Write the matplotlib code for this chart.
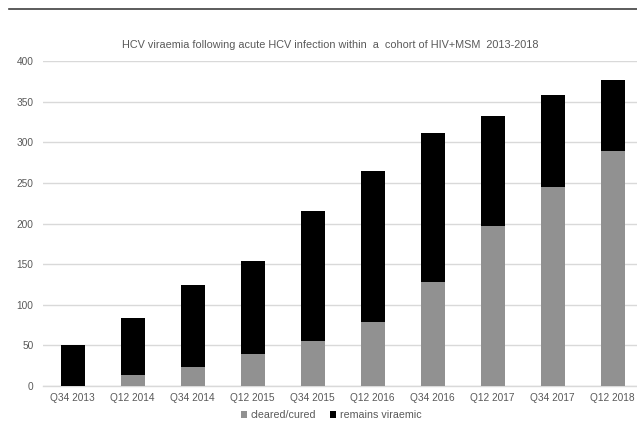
import matplotlib
matplotlib.use('Agg')
import matplotlib.pyplot as plt
import numpy as np
from matplotlib.lines import Line2D

# half-year periods and patient counts
periods = ['Q34 2013', 'Q12 2014', 'Q34 2014', 'Q12 2015', 'Q34 2015',
           'Q12 2016', 'Q34 2016', 'Q12 2017', 'Q34 2017', 'Q12 2018']
cleared = [0, 13, 24, 40, 56, 79, 128, 197, 245, 289]
viraemic = [50, 71, 101, 114, 160, 186, 184, 136, 113, 88]

plt.rcParams['font.family'] = ['Liberation Sans', 'DejaVu Sans']
text_col = '#595959'
grid_col = '#d9d9d9'

fig = plt.figure(figsize=(6.37, 4.22), dpi=100)
ax = fig.add_axes([42.5 / 637, 1 - 386 / 422, 600 / 637, (386 - 61.3) / 422])

x = np.arange(len(periods))
ax.bar(x, cleared, width=0.4, color='#919191', label='cleared/cured', zorder=3)
ax.bar(x, viraemic, width=0.4, bottom=cleared, color='black',
       label='remains viraemic', zorder=3)

ax.set_xlim(-0.5, len(periods) - 0.5)
ax.set_ylim(0, 400)
ax.set_yticks(np.arange(0, 401, 50))
ax.set_xticks(x)
ax.set_xticklabels(periods)
ax.tick_params(axis='both', length=0, labelsize=7.3, colors=text_col)
ax.tick_params(axis='y', pad=6.5)
ax.tick_params(axis='x', pad=5)
ax.yaxis.grid(True, color=grid_col, linewidth=1.0, zorder=0)
for side in ['top', 'right', 'left']:
    ax.spines[side].set_visible(False)
ax.spines['bottom'].set_color(grid_col)
ax.spines['bottom'].set_linewidth(1.0)

fig.text(330.5 / 637, 1 - 45 / 422,
         'HCV viraemia following acute HCV infection within  a  cohort of HIV+MSM  2013-2018',
         ha='center', va='center', fontsize=7.8, color=text_col)

fig.legend(loc='center', bbox_to_anchor=(331 / 637, 1 - 415 / 422), ncol=2,
           frameon=False, fontsize=7.7, labelcolor=text_col, handlelength=0.6,
           handleheight=0.6, handletextpad=0.3, columnspacing=1.3)

# separator line above the chart
fig.add_artist(Line2D([9 / 637, 1], [1 - 9 / 422, 1 - 9 / 422],
                      color='#404040', linewidth=1.2))

fig.savefig('out.png', dpi=100)
